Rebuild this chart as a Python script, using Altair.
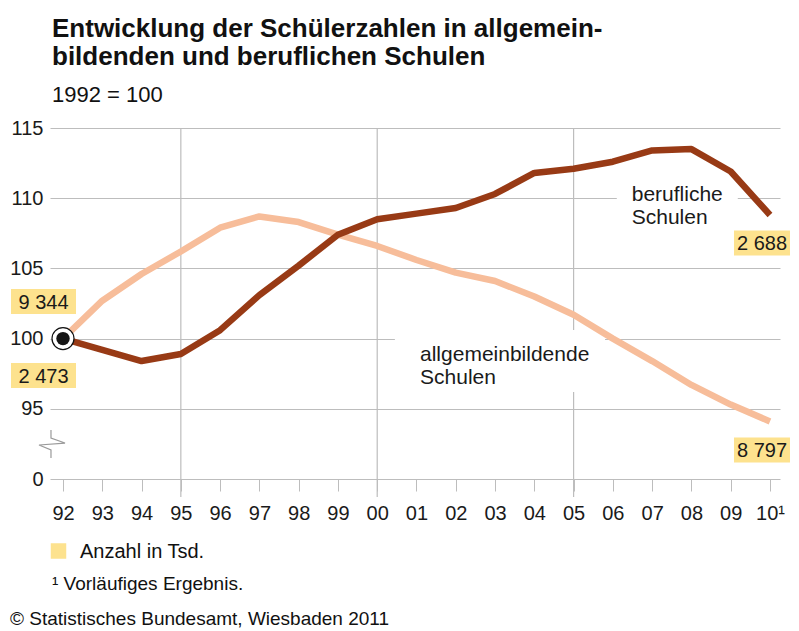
import json
import altair as alt
import pandas as pd

FONT = "Liberation Sans"
BROWN = "#983a15"
PEACH = "#f7bd9a"
YELLOW = "#fde28e"
GRID = "#bdbdbd"
TXT = "#1a1a1a"

# ---- data -------------------------------------------------------------
years = list(range(1992, 2011))
tick_labels = ["92", "93", "94", "95", "96", "97", "98", "99", "00", "01",
               "02", "03", "04", "05", "06", "07", "08", "09", "10\u00b9"]
allgemein = [100.0, 102.7, 104.6, 106.2, 107.9, 108.7, 108.3, 107.4, 106.6, 105.6,
             104.7, 104.1, 103.0, 101.7, 100.0, 98.4, 96.7, 95.3, 94.1]
beruflich = [100.0, 99.2, 98.4, 98.9, 100.6, 103.1, 105.2, 107.4, 108.5, 108.9,
             109.3, 110.3, 111.8, 112.1, 112.6, 113.4, 113.5, 111.9, 108.8]
y_ticks = [90, 95, 100, 105, 110, 115]          # 90 stands for the broken "0"
grid_years = [1995, 2000, 2005]
allg_counts = ["9 344", "8 797"]                # Anzahl in Tsd. (start, end)
beruf_counts = ["2 473", "2 688"]

title_lines = ["Entwicklung der Schülerzahlen in allgemein-",
               "bildenden und beruflichen Schulen"]
subtitle = "1992 = 100"
legend_text = "Anzahl in Tsd."
footnote = "\u00b9 Vorläufiges Ergebnis."
source = "© Statistisches Bundesamt, Wiesbaden 2011"

# ---- scales / axes ------------------------------------------------------
xscale = alt.Scale(domain=[1991.669, 2010.255], nice=False, zero=False)
yscale = alt.Scale(domain=[90, 115], nice=False, zero=False)

xaxis = alt.Axis(values=years,
                 labelExpr=json.dumps(tick_labels) + "[datum.value - 1992]",
                 tickSize=12, tickColor=GRID, tickWidth=1, domain=False, grid=False,
                 labelFont=FONT, labelFontSize=20, labelColor=TXT, labelPadding=12,
                 labelFlush=False, labelOverlap=False, title=None)
yaxis = alt.Axis(values=y_ticks,
                 labelExpr="datum.value == 90 ? '0' : datum.label",
                 ticks=False, domain=False, grid=True, gridColor=GRID, gridWidth=1.2,
                 labelFont=FONT, labelFontSize=20, labelColor=TXT, labelPadding=7,
                 labelBaseline="middle", title=None)


def X():
    return alt.X("year:Q", scale=xscale, axis=xaxis)


def Y():
    return alt.Y("value:Q", scale=yscale, axis=yaxis)


allg_df = pd.DataFrame({"year": years, "value": allgemein})
beruf_df = pd.DataFrame({"year": years, "value": beruflich})

# vertical grid lines at 95, 00, 05
vgrid = alt.Chart(pd.DataFrame({"year": grid_years, "value": [115] * 3})).mark_rule(
    color=GRID, strokeWidth=1.2).encode(x=X(), y=alt.value(0), y2=alt.value(369))

# axis break symbol
break_df = pd.DataFrame({
    "year": [1991.694, 1991.694, 1992.051, 1991.389, 1991.694, 1991.694],
    "value": [93.49, 92.92, 92.56, 92.42, 92.07, 91.50],
    "o": [0, 1, 2, 3, 4, 5]})
brk = alt.Chart(break_df).mark_line(color="#9a9a9a", strokeWidth=1.2, clip=False).encode(
    x=X(), y=Y(), order="o:Q")


# white backgrounds behind series labels
def white_box(x0, x1, y0, y1):
    d = pd.DataFrame({"year": [x0], "year2": [x1], "value": [y0], "value2": [y1]})
    return alt.Chart(d).mark_rect(color="white").encode(
        x=X(), x2="year2:Q", y=Y(), y2="value2:Q")


box_beruf = white_box(2006.10, 2009.18, 111.08, 107.59)
box_allg = white_box(2000.45, 2005.80, 100.61, 96.20)

line_allg = alt.Chart(allg_df).mark_line(
    color=PEACH, strokeWidth=6.5, strokeJoin="round", strokeCap="butt").encode(x=X(), y=Y())
line_beruf = alt.Chart(beruf_df).mark_line(
    color=BROWN, strokeWidth=6.5, strokeJoin="round", strokeCap="butt").encode(x=X(), y=Y())

start_df = allg_df.iloc[[0]]
dot_outer = alt.Chart(start_df).mark_point(
    shape="circle", filled=True, fill="white", stroke="#111", strokeWidth=1.2,
    size=484, opacity=1).encode(x=X(), y=Y())
dot_inner = alt.Chart(start_df).mark_point(
    shape="circle", filled=True, color="#151515", size=180, opacity=1).encode(x=X(), y=Y())


def value_label(year, value, text, dx, dy, w):
    d = pd.DataFrame({"year": [year], "value": [value], "t": [text]})
    base = alt.Chart(d)
    r = base.mark_rect(color=YELLOW, width=w, height=25, xOffset=dx, yOffset=dy).encode(
        x=X(), y=Y())
    t = base.mark_text(font=FONT, fontSize=20, color=TXT, align="center",
                       baseline="middle", dx=dx, dy=dy + 1).encode(x=X(), y=Y(), text="t:N")
    return r + t


vl1 = value_label(years[0], allgemein[0], allg_counts[0], -19.5, -37, 65)
vl2 = value_label(years[0], beruflich[0], beruf_counts[0], -19.5, 37, 65)
vl3 = value_label(years[-1], beruflich[-1], beruf_counts[1], -8, 28, 56)
vl4 = value_label(years[-1], allgemein[-1], allg_counts[1], -8, 28.5, 56)


def series_label(year, value, text):
    d = pd.DataFrame({"year": [year], "value": [value], "t": [text]})
    return alt.Chart(d).mark_text(font=FONT, fontSize=21, color=TXT, align="left",
                                  baseline="middle").encode(x=X(), y=Y(), text="t:N")


sl = [series_label(2006.48, 110.23, "berufliche"),
      series_label(2006.48, 108.59, "Schulen"),
      series_label(2001.09, 98.83, "allgemeinbildende"),
      series_label(2001.09, 97.19, "Schulen")]


def px_text(text, x, y, size, weight="normal", baseline="alphabetic"):
    d = pd.DataFrame({"t": [text]})
    return alt.Chart(d).mark_text(font=FONT, fontSize=size, fontWeight=weight, color="#111",
                                  align="left", baseline=baseline).encode(
        x=alt.value(x), y=alt.value(y), text="t:N")


texts = [px_text(title_lines[0], 2, -91, 26, "bold"),
         px_text(title_lines[1], 2, -63, 26, "bold"),
         px_text(subtitle, 2, -26, 22),
         px_text(legend_text, 30, 424, 20, baseline="middle"),
         px_text(footnote, 2, 456, 19, baseline="middle"),
         px_text(source, -40, 491, 19, baseline="middle")]

legend_sq = alt.Chart(pd.DataFrame({"t": [legend_text]})).mark_square(
    color=YELLOW, size=240, opacity=1).encode(x=alt.value(8.5), y=alt.value(423))

chart = alt.layer(
    vgrid, box_beruf, box_allg, brk, line_allg, line_beruf,
    dot_outer, dot_inner, vl1, vl2, vl3, vl4, *sl, *texts, legend_sq
).properties(
    width=730, height=351,
    padding={"left": 42, "top": 120, "right": 10, "bottom": 152},
    autosize=alt.AutoSizeParams(type="none"),
    background="white",
).configure_view(stroke=None)

chart.save("out.html", embed_options={"renderer": "svg", "actions": False})
